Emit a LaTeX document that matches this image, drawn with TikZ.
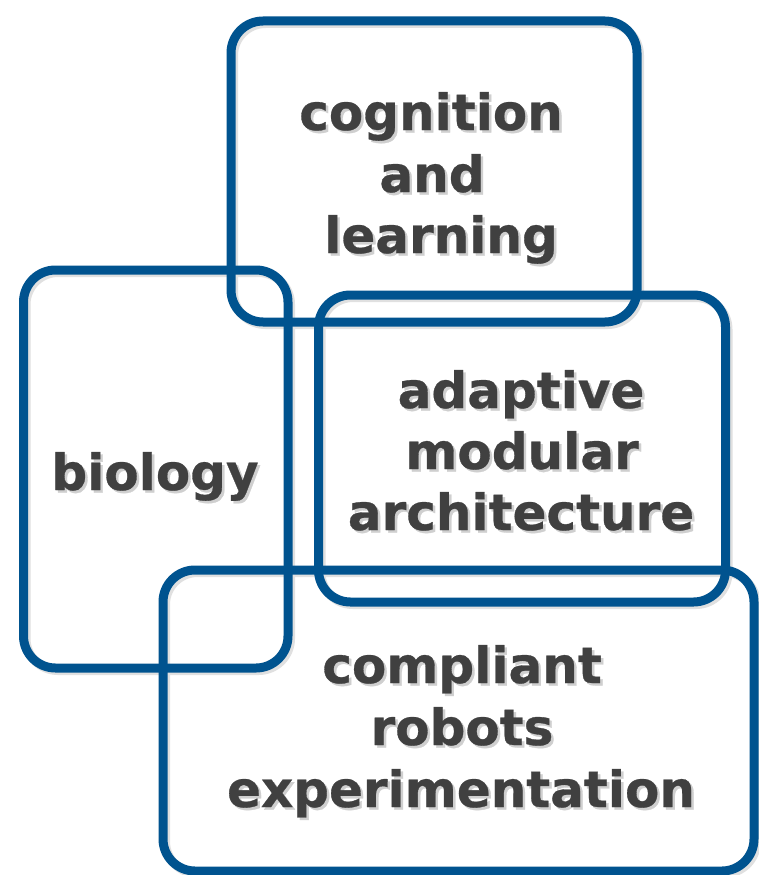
\documentclass[tikz,border=0pt]{standalone}
\usepackage{fontspec}
\setmainfont{DejaVu Sans}
\newfontfamily\labelfont[FakeBold=0.6]{DejaVu Sans Bold}
\definecolor{ringblue}{HTML}{00538F}
\definecolor{textgray}{HTML}{404040}
\definecolor{shadowgray}{HTML}{CFCFCF}
% one line of label text carrying its own soft drop shadow
\newcommand\shadowtext[1]{%
  \rlap{\hspace{2.5pt}\raisebox{-2.5pt}{\textcolor{shadowgray}{#1}}}#1}
\begin{document}
\begin{tikzpicture}[x=1pt,y=-1pt,
  frame/.style={draw=ringblue, line width=9pt, rounded corners=32pt},
  frameshadow/.style={draw=black!12, line width=9pt, rounded corners=32pt},
  lbl/.style={font=\fontsize{50}{62}\selectfont\labelfont, text=textgray,
              anchor=base, inner sep=0pt}]
\useasboundingbox (0,0) rectangle (758,875);
\fill[white] (0,0) rectangle (758,875);

% soft shadows under the four frames
\begin{scope}[shift={(2.5,2.5)}]
  \draw[frameshadow] (231,21)    rectangle (637,322);
  \draw[frameshadow] (23.5,270)  rectangle (288,668);
  \draw[frameshadow] (318.5,295) rectangle (725.5,602);
  \draw[frameshadow] (163,570)   rectangle (754,871);
\end{scope}

% the four overlapping frames
\draw[frame] (231,21)    rectangle (637,322);   % cognition and learning
\draw[frame] (23.5,270)  rectangle (288,668);   % biology
\draw[frame] (318.5,295) rectangle (725.5,602); % adaptive modular architecture
\draw[frame] (163,570)   rectangle (754,871);   % compliant robots experimentation

% labels
\node[lbl] (cog1) at (431,130) {\shadowtext{cognition}};
\node[lbl] (cog2) at (432,192) {\shadowtext{and}};
\node[lbl] (cog3) at (441,253) {\shadowtext{learning}};

\node[lbl] (bio) at (155,490) {\shadowtext{biology}};

\node[lbl] (ada1) at (521,408) {\shadowtext{adaptive}};
\node[lbl] (ada2) at (522,469) {\shadowtext{modular}};
\node[lbl] (ada3) at (521,530) {\shadowtext{architecture}};

\node[lbl] (com1) at (462,683) {\shadowtext{compliant}};
\node[lbl] (com2) at (462,745) {\shadowtext{robots}};
\node[lbl] (com3) at (461,807) {\shadowtext{experimentation}};
\end{tikzpicture}
\end{document}
